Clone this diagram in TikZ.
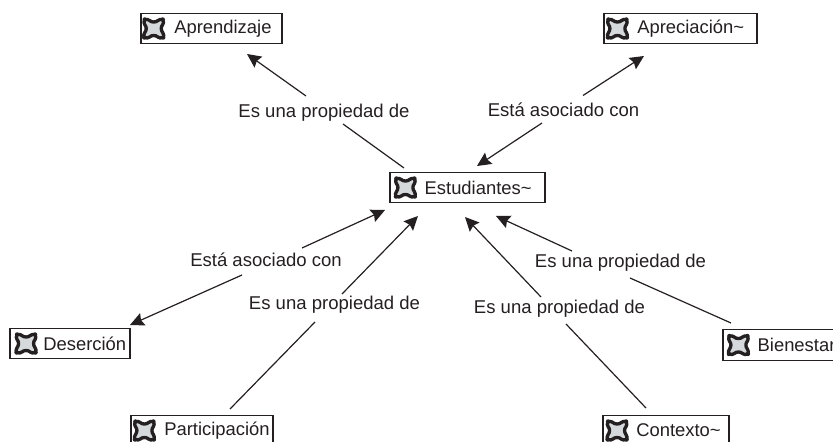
\documentclass[tikz,border=0pt]{standalone}
\usepackage{fontspec}
\setmainfont{Liberation Sans}
\usepackage{tikz}
\usetikzlibrary{arrows.meta}
\definecolor{MyInk}{rgb}{0.14,0.12,0.13}
\definecolor{MyIconFill}{rgb}{0.84,0.85,0.86}
\tikzset{
  pics/conceptmark/.style={code={
    \draw[draw=MyInk, fill=MyIconFill, line width=2.5pt, line join=round]
      (-9,-9) .. controls (-4.5,-10) and (-3.5,-6) .. (0,-6.5) .. controls (3.5,-6) and (4.5,-10) .. (9,-9)
      .. controls (11.5,-4.5) and (7,-3) .. (7.5,0) .. controls (7,3) and (11.5,5.5) .. (9.5,9)
      .. controls (4.5,11) and (3.5,6.5) .. (0,7) .. controls (-3.5,6.5) and (-4.5,11) .. (-9.5,9)
      .. controls (-11.5,5.5) and (-7,3) .. (-7.5,0) .. controls (-7,-3) and (-11.5,-4.5) .. (-9,-9) -- cycle;
    \fill[MyInk] (-9,-9) circle (2.2) (9,-9) circle (2.2) (-9.5,9) circle (2.2) (9.5,9) circle (2.2);
  }}
}

\begin{document}
\begin{tikzpicture}[x=0.75pt, y=-0.75pt]
       \tikzstyle{every node}=[text=MyInk]
       \tikzstyle{conceptbox}=[draw=MyInk, line width=0.9pt, fill=white, inner sep=0pt,
         minimum height=23pt, align=left, font=\fontsize{13.8}{16}\selectfont]
       \tikzstyle{linkname}=[inner sep=0pt, font=\fontsize{13.9}{16}\selectfont]
       \tikzstyle{linkline}=[draw=MyInk, line width=0.9pt]
       \tikzstyle{linkarrow}=[linkline, -{Stealth[length=10.5pt, width=10pt, inset=1.5pt]}]
        \clip (0,0) rectangle (833,442);

        % concepts
        \node[conceptbox, text width=105.75pt] (aprendizaje) at (211.5,28.5) {\hspace*{25pt}Aprendizaje};
        \node[conceptbox, text width=114.75pt] (apreciacion) at (680.5,28.5) {\hspace*{25pt}Apreciación\textasciitilde};
        \node[conceptbox, text width=116.25pt] (estudiantes) at (467.5,187.5) {\hspace*{26pt}Estudiantes\textasciitilde};
        \node[conceptbox, text width=90pt] (desercion) at (70,343.5) {\hspace*{25pt}Deserción};
        \node[conceptbox, text width=106.5pt] (participacion) at (202,430.5) {\hspace*{25pt}Participación};
        \node[conceptbox, text width=94.5pt] (contexto) at (666,430.5) {\hspace*{25pt}Contexto\textasciitilde};
        \node[conceptbox, text width=90pt] (bienestar) at (783,345) {\hspace*{26pt}Bienestar};

        \pic at ([xshift=10pt]aprendizaje.west) {conceptmark};
        \pic at ([xshift=10.5pt]apreciacion.west) {conceptmark};
        \pic at ([xshift=12pt]estudiantes.west) {conceptmark};
        \pic at ([xshift=12.5pt]desercion.west) {conceptmark};
        \pic at ([xshift=10.5pt]participacion.west) {conceptmark};
        \pic at ([xshift=11pt]contexto.west) {conceptmark};
        \pic at ([xshift=12pt]bienestar.west) {conceptmark};

        % link names
        \node[linkname] (propAprendizaje) at (324,113) {Es una propiedad de};
        \node[linkname] (asocApreciacion) at (563.5,110) {Está asociado con};
        \node[linkname] (asocDesercion) at (266,259.5) {Está asociado con};
        \node[linkname] (propParticipacion) at (334.5,305) {Es una propiedad de};
        \node[linkname] (propContexto) at (559.5,309) {Es una propiedad de};
        \node[linkname] (propBienestar) at (620.5,263) {Es una propiedad de};

        % connectors
        \draw[linkline] ([shift={(-63.5,-19.5)}]estudiantes.center) -- ([shift={(19,11)}]propAprendizaje.center);
        \draw[linkarrow] ([shift={(-18,-17)}]propAprendizaje.center) -- ([shift={(35.5,25.5)}]aprendizaje.center);
        \draw[linkarrow] ([shift={(19.5,-14.5)}]asocApreciacion.center) -- ([shift={(-36.5,27.5)}]apreciacion.center);
        \draw[linkarrow] ([shift={(-21.5,13)}]asocApreciacion.center) -- ([shift={(9.5,-21.5)}]estudiantes.center);
        \draw[linkarrow] ([shift={(36,-11.5)}]asocDesercion.center) -- ([shift={(-82.5,22.5)}]estudiantes.center);
        \draw[linkarrow] ([shift={(-24,15.5)}]asocDesercion.center) -- ([shift={(60,-18.5)}]desercion.center);
        \draw[linkline] ([shift={(28,-21.5)}]participacion.center) -- ([shift={(-19.5,17)}]propParticipacion.center);
        \draw[linkarrow] ([shift={(7.5,-11)}]propParticipacion.center) -- ([shift={(-49.5,28.5)}]estudiantes.center);
        \draw[linkline] ([shift={(-20,-22.5)}]contexto.center) -- ([shift={(6.5,15)}]propContexto.center);
        \draw[linkarrow] ([shift={(-18.5,-12)}]propContexto.center) -- ([shift={(-2.5,29.5)}]estudiantes.center);
        \draw[linkline] ([shift={(-52,-22)}]bienestar.center) -- ([shift={(9.5,15)}]propBienestar.center);
        \draw[linkarrow] ([shift={(-48.5,-12)}]propBienestar.center) -- ([shift={(28.5,28.5)}]estudiantes.center);
      \end{tikzpicture}
\end{document}
